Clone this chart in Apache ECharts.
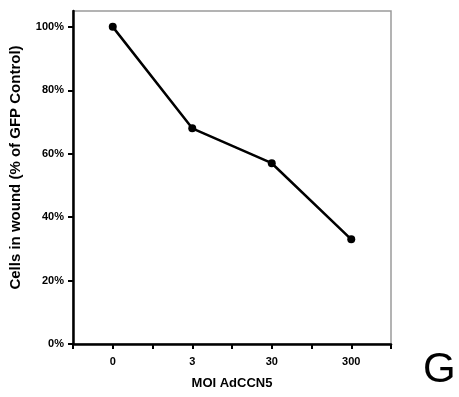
<!DOCTYPE html>
<html>
<head>
<meta charset="utf-8">
<script src="https://cdn.jsdelivr.net/npm/echarts@6/dist/echarts.min.js"></script>
<style>
html,body{margin:0;padding:0;background:#fff;}
#chart{width:459px;height:397px;}
</style>
</head>
<body>
<div id="chart"></div>
<script>
// Data
const categories = ['0', '3', '30', '300'];
const values = [100, 68, 57, 33];
const yTicks = [0, 20, 40, 60, 80, 100];
const xTitle = 'MOI AdCCN5';
const yTitle = 'Cells in wound (% of GFP Control)';
const panelLetter = 'G';

const font = '"Liberation Sans", Arial, sans-serif';
const chart = echarts.init(document.getElementById('chart'));
const seriesData = values.map((v, i) => [i, v]);

chart.setOption({
  animation: false,
  backgroundColor: '#ffffff',
  grid: {
    left: 73, right: 68, top: 11, bottom: 53,
    show: true, borderColor: '#9a9a9a', borderWidth: 1.5
  },
  xAxis: {
    type: 'value',
    min: -0.5, max: 3.5, interval: 0.5,
    splitLine: { show: false },
    axisLine: { show: true, onZero: false, lineStyle: { color: '#000', width: 2.5 } },
    axisTick: { show: true, inside: false, length: 5, lineStyle: { color: '#000', width: 2 } },
    axisLabel: {
      customValues: categories.map((c, i) => i),
      formatter: v => categories[Math.round(v)] ?? '',
      fontFamily: font, fontWeight: 'bold', fontSize: 11, color: '#000', margin: 12
    },
    name: xTitle, nameLocation: 'middle', nameGap: 33,
    nameTextStyle: { fontFamily: font, fontWeight: 'bold', fontSize: 13, color: '#000' }
  },
  yAxis: {
    type: 'value',
    min: 0, max: 105, interval: 20,
    splitLine: { show: false },
    axisLine: { show: true, onZero: false, lineStyle: { color: '#000', width: 2.5 } },
    axisTick: { show: true, inside: false, length: 5, customValues: yTicks, lineStyle: { color: '#000', width: 2 } },
    axisLabel: {
      customValues: yTicks,
      formatter: v => v + '%',
      fontFamily: font, fontWeight: 'bold', fontSize: 11, color: '#000', margin: 9
    },
    name: yTitle, nameLocation: 'middle', nameGap: 50, nameRotate: 90,
    nameTextStyle: { fontFamily: font, fontWeight: 'bold', fontSize: 15, color: '#000', padding: [0, 0, 0, 20] }
  },
  series: [{
    type: 'line',
    data: seriesData,
    symbol: 'circle', symbolSize: 8,
    lineStyle: { color: '#000', width: 2.5 },
    itemStyle: { color: '#000' }
  }],
  graphic: [{
    type: 'text',
    left: 423, top: 349,
    style: { text: panelLetter, font: '42px ' + font, fill: '#000' }
  }]
});
</script>
</body>
</html>
